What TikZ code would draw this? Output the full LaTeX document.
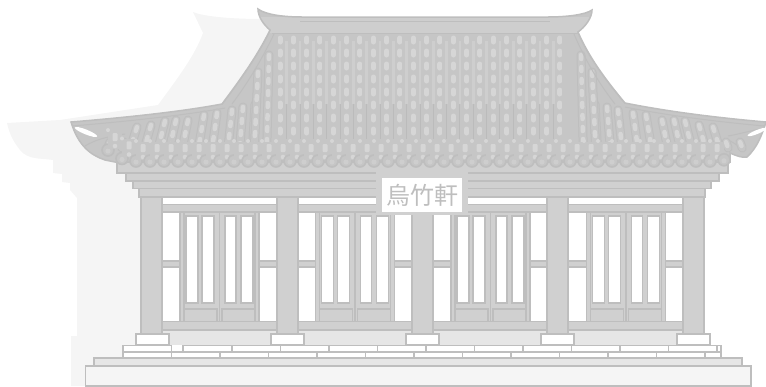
\documentclass[tikz,border=0pt]{standalone}
\usepackage{fontspec}
\newfontfamily\cjk{Noto Sans CJK TC}
\definecolor{ln}{HTML}{BEBEBE}
\definecolor{fl}{HTML}{D0D0D0}
\definecolor{rf}{HTML}{C6C6C6}
\definecolor{tl}{HTML}{D6D6D6}
\definecolor{st}{HTML}{CECECE}
\definecolor{dk}{HTML}{BBBBBB}
\definecolor{sh}{HTML}{F5F5F5}
\definecolor{wl}{HTML}{E6E6E6}
\tikzset{part/.style={draw=ln,fill=fl,line width=1.3pt},
 brick/.style={draw=ln,fill=white,line width=1.1pt},
 win/.style={fill=white,draw=ln,line width=1.1pt},
 tilecap/.style={line cap=round,line width=5pt,tl},
 strip/.style={line width=2.6pt,st}}
\begin{document}
\begin{tikzpicture}[x=1pt,y=-1pt]
\useasboundingbox (0,0) rectangle (766,386);
% shadow
\fill[sh] (193,12) .. controls (205,17) and (235,19) .. (262,19) -- (270,30) -- (240,110) -- (200,200) -- (141,386) -- (71,386) -- (71,336) -- (77,336) -- (77,198) -- (70,190) -- (70,183) -- (62,182) -- (62,174) -- (53,173) -- (53,160) .. controls (40,158) and (28,160) .. (20,150) .. controls (12,140) and (9,132) .. (7,123) -- (60,120) -- (158,105) .. controls (180,75) and (195,55) .. (203,33) -- cycle;
\fill[sh] (100,130) rectangle (142,386);
% building body
\fill[white] (162,196) rectangle (683,335);
\fill[wl] (162,330) rectangle (683,345);
\draw[part] (162,321.5) rectangle (683,330);
\draw[part] (162,204.5) rectangle (683,212);
\draw[part] (162,261) rectangle (683,267);
% doors
\foreach \b in {0,135.5,271,406.5}{
 \begin{scope}[xshift=\b pt]
  \draw[part] (180,212) rectangle (259,321.5);
  \draw[ln,line width=1.2pt] (219.5,212) -- (219.5,321.5);
  \draw[ln,line width=1.2pt] (184,212) -- (184,321.5) (255,212) -- (255,321.5);
  \draw[win] (186,216) rectangle (198,303);
  \draw[win] (202,216) rectangle (214,303);
  \draw[win] (225,216) rectangle (236,303);
  \draw[win] (241,216) rectangle (253,303);
  \draw[part] (184,309) rectangle (217,321.5);
  \draw[part] (222,309) rectangle (255,321.5);
 \end{scope}}
% plinths
\foreach \x in {136,271,406,541,677}{
 \draw[brick,line width=1.3pt] (\x,334) rectangle +(33,10.5);}
% pillars
\foreach \x in {141,277,412,547,683}{
 \draw[part] (\x,196) rectangle +(21,138);}
% steps
\foreach \x in {123,171.5,220,268.5,317,365.5,414,462.5,511,559.5,608,656.5}{
 \draw[brick] (\x,352) rectangle +(48.5,6);}
\draw[brick] (705,352) rectangle (721,358);
\foreach \x in {123,183,232,280.5,329,377.5,426,474.5,523,571.5,620,668.5}{
 \draw[brick] (\x,345.5) rectangle +(48.5,6.5);}
\draw[brick] (717,345.5) rectangle (721,352);
\draw[brick,fill=wl] (94,358) rectangle (742,366);
\draw[brick,fill=sh] (85.5,366) rectangle (751,386);
% entablature
\draw[part] (139,188.5) rectangle (705,197);
\draw[part] (133,181) rectangle (711,188.5);
\draw[part] (126,173) rectangle (719,181);
\draw[part] (117,160) rectangle (728,173);
% roof
\def\roofpath{(258,9) .. controls (266,15) and (285,17) .. (302,17) -- (548,17) .. controls (565,17) and (585,15) .. (592,10)
 .. controls (592,18) and (585,27) .. (578,32) .. controls (590,60) and (610,85) .. (625,103)
 .. controls (670,112) and (720,118) .. (766,122) .. controls (762,135) and (757,148) .. (747,157)
 .. controls (742,158) and (737,156) .. (730,153) -- (730,162) -- (115,162) -- (105,160)
 .. controls (90,155) and (78,145) .. (71,122) .. controls (120,118) and (180,112) .. (222,104)
 .. controls (240,80) and (258,55) .. (270,30) .. controls (264,25) and (258,17) .. (258,9) -- cycle}
\fill[rf] \roofpath;
\begin{scope}
 \clip \roofpath;
 % ridge
 \fill[st] (255,17) rectangle (595,33);
 \draw[ln,line width=1pt] (300,21) -- (550,21);
 \draw[ln,line width=1pt] (272,33) -- (578,33);
 % upper tiles
 \foreach \k in {0,...,21}{
  \pgfmathsetmacro\cx{(280+13.33*\k)}
  \pgfmathsetmacro\sx{(286.7+13.33*\k)}
  \ifnum\k<21
   \draw[strip] (\sx,41) -- (\sx,104);
   \draw[dk,line width=1pt] (\sx,104) -- (\sx,139);
  \fi
  \foreach \y in {38,51,...,130}{
   \draw[tilecap] (\cx,\y) -- (\cx,\y+4);}
 }
 % wing ridge lines
 \draw[ln,line width=1pt] (72,126) .. controls (120,122) and (180,116) .. (225,108);
 \draw[ln,line width=1pt] (625,107) .. controls (670,116) and (720,122) .. (764,126);
 \draw[ln,line width=1pt] (85,146) .. controls (95,140) and (105,137) .. (125,134);
 \draw[ln,line width=1pt] (765,128) .. controls (745,132) and (735,135) .. (728,136);
 \draw[ln,line width=1pt] (745,150) .. controls (738,146) and (733,142) .. (728,140);
 % fan columns, left and right
 \foreach \tx/\ty in {110/142,124/142,137/127,151/125,165/121,176/120,188/120,204/115,217/113,232/110,243/107,255/104,258/72,269/55}{
  \foreach \m in {0,1}{
   \pgfmathsetmacro\txx{ifthenelse(\m==0,\tx,850-\tx)}
   \pgfmathsetmacro\dlt{(280-\tx)*0.055*ifthenelse(\m==0,1,-1)}
   \pgfmathsetmacro\bxx{\txx-\dlt*(148-\ty)/25}
   \draw[ln,line width=9pt,line cap=round] (\txx,\ty) -- (\bxx,148);
   \draw[rf,line width=7pt,line cap=round] (\txx,\ty) -- (\bxx,148);
   \pgfmathsetmacro\n{int((148-\ty)/12)}
   \foreach \i in {0,...,\n}{
    \pgfmathsetmacro\u{(12*\i)/(148-\ty)}
    \pgfmathsetmacro\v{(12*\i+4)/(148-\ty)}
    \draw[tilecap,line width=4.5pt] ({\txx+(\bxx-\txx)*\u},{\ty+(148-\ty)*\u}) -- ({\txx+(\bxx-\txx)*\v},{\ty+(148-\ty)*\v});}
  }}
 % hip lines
 \draw[ln,line width=1.5pt] (222,104) .. controls (240,80) and (258,55) .. (270,30);
 \draw[ln,line width=1pt] (232,104) .. controls (250,80) and (264,55) .. (274,34);
 \draw[ln,line width=1.5pt] (625,103) .. controls (610,85) and (590,60) .. (578,32);
 \draw[ln,line width=1pt] (615,104) .. controls (600,85) and (585,60) .. (574,34);
\end{scope}
\draw[ln,line width=1.5pt] \roofpath;
\fill[white,rotate around={-22:(86,132)}] (86,132) ellipse [x radius=12,y radius=2.4];
\fill[white,rotate around={22:(757,132)}] (757,132) ellipse [x radius=10,y radius=2];
% eaves
\foreach \k in {0,...,44}{
 \pgfmathsetmacro\ex{108+14*\k}
 \pgfmathsetmacro\d{max(0,max(135-\ex,\ex-715))}
 \pgfmathsetmacro\ey{161-0.015*\d*\d}
 \draw[ln,fill=rf,line width=1.6pt] (\ex,\ey) circle[radius=6];
 \fill[st] (\ex,\ey+1) circle[radius=2.6];
 \ifnum\k<44
  \pgfmathsetmacro\fx{115+14*\k}
  \fill[rf] (\fx-7,\ey-19) rectangle (\fx+7,\ey-1);
  \fill[tl,rounded corners=1pt] (\fx-2.5,\ey-17) rectangle (\fx+2.5,\ey-9);
  \fill[tl] (\fx,\ey-4) circle[radius=2.3];
  \fill[tl] (\fx-7,\ey-20) circle[radius=2];
 \fi
}
% sign
\fill[fl] (376,172) rectangle (468,215);
\fill[white] (382,178) rectangle (462,212);
\node[text=ln,font=\cjk\fontsize{24}{24}\selectfont,anchor=center] (sign) at (422,195) {烏竹軒};
\end{tikzpicture}
\end{document}
